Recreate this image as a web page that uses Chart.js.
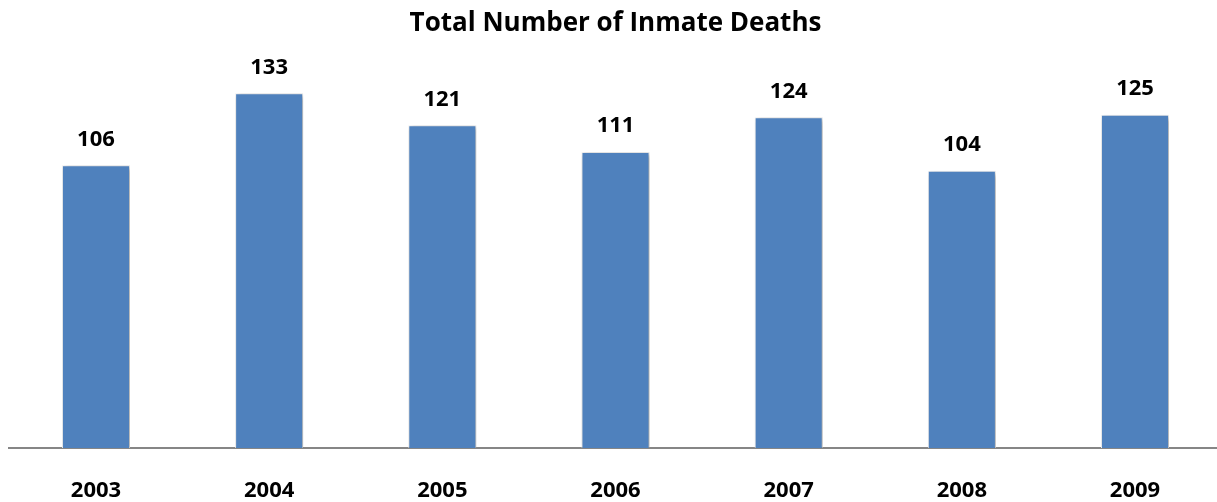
<!DOCTYPE html>
<html>
<head>
<meta charset="utf-8">
<script src="https://cdn.jsdelivr.net/npm/chart.js@4/dist/chart.umd.min.js"></script>
<style>
  html, body { margin: 0; padding: 0; background: #ffffff; overflow: hidden; }
  #wrap { width: 1222px; height: 502px; position: relative; }
</style>
</head>
<body>
<div id="wrap"><canvas id="deathsChart"></canvas></div>
<script>
const years = ["2003", "2004", "2005", "2006", "2007", "2008", "2009"];
const deaths = [106, 133, 121, 111, 124, 104, 125];
const chartTitle = "Total Number of Inmate Deaths";

const fontFamily = "'Open Sans', Lato, sans-serif";

// shadow behind the bars, like the office chart
const barShadow = {
  id: 'barShadow',
  beforeDatasetsDraw(chart) {
    const ctx = chart.ctx;
    ctx.save();
    ctx.shadowColor = 'rgba(0, 0, 0, 0.35)';
    ctx.shadowBlur = 5;
    ctx.shadowOffsetX = 2;
    ctx.shadowOffsetY = 2;
  },
  afterDatasetsDraw(chart) {
    chart.ctx.restore();
  }
};

// value labels above each bar
const valueLabels = {
  id: 'valueLabels',
  afterDraw(chart) {
    const ctx = chart.ctx;
    const meta = chart.getDatasetMeta(0);
    ctx.save();
    ctx.font = "bold 22px " + fontFamily;
    ctx.fillStyle = '#000000';
    ctx.textAlign = 'center';
    ctx.textBaseline = 'middle';
    meta.data.forEach(function(bar, i) {
      ctx.fillText(String(deaths[i]), bar.x, bar.y - 26);
    });
    ctx.restore();
  }
};

const ctx = document.getElementById('deathsChart');
const myChart = new Chart(ctx, {
  type: 'bar',
  data: {
    labels: years,
    datasets: [{
      data: deaths,
      backgroundColor: '#4F81BD',
      borderColor: '#F2F2F2',
      borderWidth: 1,
      categoryPercentage: 1,
      barPercentage: 0.393
    }]
  },
  options: {
    responsive: true,
    maintainAspectRatio: false,
    animation: false,
    layout: {
      padding: { left: 9.4, right: 0.4, top: 0, bottom: 0 }
    },
    plugins: {
      legend: { display: false },
      tooltip: { enabled: false },
      title: {
        display: true,
        text: chartTitle,
        color: '#000000',
        font: { family: fontFamily, size: 26, weight: 'bold', lineHeight: 1.2 },
        padding: { top: 8, bottom: 8.8 }
      }
    },
    scales: {
      x: {
        grid: { display: false, drawTicks: false },
        border: { display: true, color: '#868686', width: 2 },
        ticks: {
          color: '#000000',
          padding: 30,
          font: { family: fontFamily, size: 22, weight: 'bold', lineHeight: 1.2 }
        },
        afterFit: function(scale) {
          scale.height = 54;
        }
      },
      y: {
        display: false,
        min: 0,
        max: 150
      }
    }
  },
  plugins: [barShadow, valueLabels]
});
</script>
</body>
</html>
